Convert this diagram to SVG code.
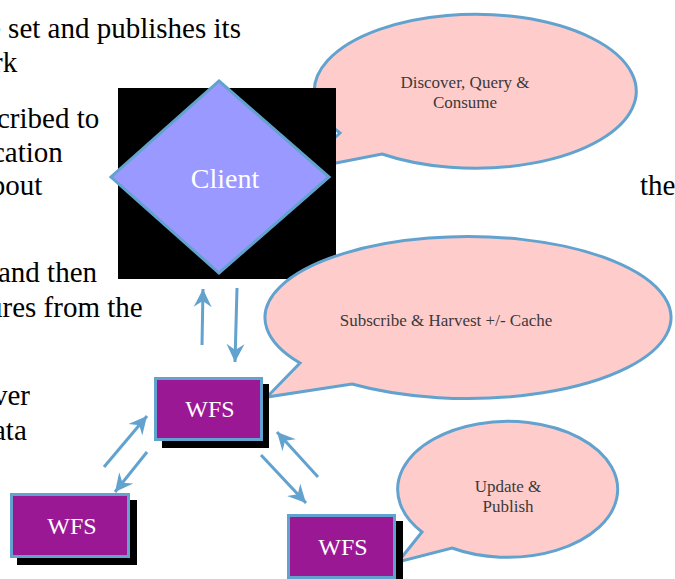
<svg xmlns="http://www.w3.org/2000/svg" width="675" height="579" viewBox="0 0 675 579">
<defs>
<style>
.bg{font-family:"Liberation Serif","Times New Roman",serif;font-size:29px;fill:#000}
.bub{fill:#ffcccc;stroke:#62a2cf;stroke-width:3;stroke-linejoin:miter}
.bt{font-family:"Liberation Serif","Times New Roman",serif;font-size:17px;fill:#3a3a3a;text-anchor:middle}
.box{fill:#9b1895;stroke:#62a2cf;stroke-width:3}
.wt{font-family:"Liberation Serif","Times New Roman",serif;font-size:24px;fill:#fff;text-anchor:middle}
.con{stroke:#62a2cf;stroke-width:3;fill:none;marker-end:url(#ah)}
</style>
<marker id="ah" markerUnits="userSpaceOnUse" viewBox="-20 -10 21 20" refX="0" refY="0" markerWidth="21" markerHeight="20" orient="auto">
<path d="M-18,-9 L0,0 L-18,9 L-12,0 z" fill="#62a2cf"/>
</marker>
</defs>
<g id="background-text">
<text class="bg" x="-12" y="38">e set and publishes its</text>
<text class="bg" x="-7" y="72">rk</text>
<text class="bg" x="-3" y="128">cribed to</text>
<text class="bg" x="-8" y="162">cation</text>
<text class="bg" x="-22" y="195">about</text>
<text class="bg" x="640" y="195">the</text>
<text class="bg" x="-2" y="282">and then</text>
<text class="bg" x="-12" y="317">ures from the</text>
<text class="bg" x="-7" y="405">ver</text>
<text class="bg" x="-7" y="440">ata</text>
</g>
<g id="bubble-discover">
<path class="bub" d="M340,133 L300,170 L382,154 A161,77 0 1 0 340,133 Z"/>
<text class="bt" x="465" y="88">Discover, Query &amp;</text>
<text class="bt" x="465" y="108">Consume</text>
</g>
<g id="client">
<rect x="118" y="88" width="218" height="191" fill="#000"/>
<polygon points="219,81 329,177 219,273 111,177" fill="#9999ff" stroke="#62a2cf" stroke-width="3"/>
<text x="225" y="188" font-family="Liberation Serif, Times New Roman, serif" font-size="28" fill="#fff" text-anchor="middle">Client</text>
</g>
<g id="bubble-subscribe">
<path class="bub" d="M300,363 L267,397 L352,384 A203,81 0 1 0 300,363 Z"/>
<text class="bt" x="446" y="326">Subscribe &amp; Harvest +/- Cache</text>
</g>
<g id="bubble-update">
<path class="bub" d="M422,532 L398,562 L452,548 A110,68 0 1 0 422,532 Z"/>
<text class="bt" x="508" y="492">Update &amp;</text>
<text class="bt" x="508" y="512">Publish</text>
</g>
<g id="wfs-top">
<rect x="162" y="384" width="107" height="64" fill="#000"/>
<rect class="box" x="155.5" y="378.5" width="106" height="61"/>
<text class="wt" x="210" y="417">WFS</text>
</g>
<g id="wfs-left">
<rect x="17" y="500" width="120" height="65" fill="#000"/>
<rect class="box" x="11.5" y="494.5" width="117" height="62"/>
<text class="wt" x="72" y="534">WFS</text>
</g>
<g id="wfs-right">
<rect x="294" y="521" width="109" height="65" fill="#000"/>
<rect class="box" x="288.5" y="515.5" width="106" height="62"/>
<text class="wt" x="343" y="555">WFS</text>
</g>
<g id="connectors">
<line class="con" x1="202" y1="345" x2="203" y2="289"/>
<line class="con" x1="237" y1="288" x2="235" y2="362"/>
<line class="con" x1="104" y1="467" x2="147" y2="416"/>
<line class="con" x1="147" y1="452" x2="115" y2="492"/>
<line class="con" x1="261" y1="455" x2="306" y2="503"/>
<line class="con" x1="318" y1="477" x2="277" y2="432"/>
</g>
</svg>
